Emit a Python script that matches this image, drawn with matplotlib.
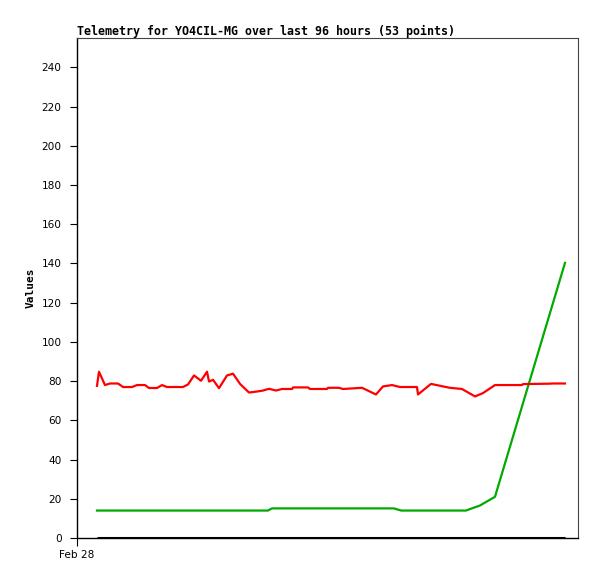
import numpy as np
import matplotlib
matplotlib.use("Agg")
from matplotlib import pyplot as plt

# hours since Feb 28 00:00
red_t = [4.10, 4.51, 5.74, 6.77, 8.41, 9.44, 11.28, 12.31, 13.95, 14.77, 16.41, 17.44,
         18.46, 21.74, 22.77, 24.00, 25.44, 26.67, 27.08, 27.90, 29.13, 30.77, 32.00,
         33.44, 35.28, 36.92, 38.15, 39.38, 40.82, 42.05, 44.10, 44.31, 47.38, 47.79,
         51.28, 51.49, 53.74, 54.56, 58.46, 61.33, 62.77, 64.62, 66.26, 69.74, 69.95,
         72.62, 75.08, 76.51, 78.97, 81.64, 83.28, 85.74, 91.28, 91.49, 97.03, 97.44, 100.10]
red_v = [77.6, 84.8, 78.0, 78.8, 78.8, 77.0, 77.0, 78.0, 78.0, 76.5, 76.5, 78.0,
         77.0, 77.0, 78.3, 82.9, 80.2, 84.8, 79.8, 80.7, 76.4, 82.9, 83.8,
         78.6, 74.2, 74.7, 75.2, 76.1, 75.2, 76.0, 76.0, 76.8, 76.8, 76.0,
         76.0, 76.6, 76.6, 76.0, 76.6, 73.2, 77.3, 78.0, 77.0, 77.0, 73.2,
         78.6, 77.3, 76.6, 76.0, 72.2, 73.9, 78.0, 78.0, 78.5, 78.7, 78.8, 78.8]

green_t = [4.10, 39.20, 39.60, 40.00, 65.00, 66.50, 79.80, 81.20, 82.60, 85.74, 100.10]
green_v = [14.0, 14.0, 14.6, 15.1, 15.1, 14.0, 14.0, 15.3, 16.5, 21.0, 140.3]

black_t = [4.10, 100.10]
black_v = [0.0, 0.0]

yticks = list(range(0, 241, 20))

fig = plt.figure(figsize=(5.97, 5.79), dpi=100)
ax = fig.add_axes([77 / 597, 41 / 579, 501 / 597, 500 / 579])

ax.plot(black_t, black_v, color="black", lw=2.2, solid_capstyle="butt")
ax.plot(green_t, green_v, color="#00aa00", lw=1.6)
ax.plot(red_t, red_v, color="#ff0000", lw=1.6)

ax.set_xlim(0, 102.77)
ax.set_ylim(0, 255)
ax.set_yticks(yticks)
ax.set_yticklabels([str(v) for v in yticks], fontsize=7.6, family="DejaVu Sans")
ax.set_xticks([0])
ax.set_xticklabels(["Feb 28"], fontsize=7.6, family="DejaVu Sans")
ax.tick_params(axis="y", direction="out", length=5, width=0.8, pad=6)
ax.tick_params(axis="x", direction="out", length=6, width=0.8, pad=3)

for side in ["left", "bottom"]:
    ax.spines[side].set_color("black")
    ax.spines[side].set_linewidth(1.0)
for side in ["top", "right"]:
    ax.spines[side].set_color("#444444")
    ax.spines[side].set_linewidth(0.8)

ax.set_ylabel("Values", family="DejaVu Sans Mono", fontweight="bold", fontsize=8, labelpad=4)
fig.text(77 / 597, 1 - 31 / 579, "Telemetry for YO4CIL-MG over last 96 hours (53 points)",
         family="DejaVu Sans Mono", fontweight="bold", fontsize=8.35, ha="left", va="center")

fig.savefig("out.png", dpi=100)
